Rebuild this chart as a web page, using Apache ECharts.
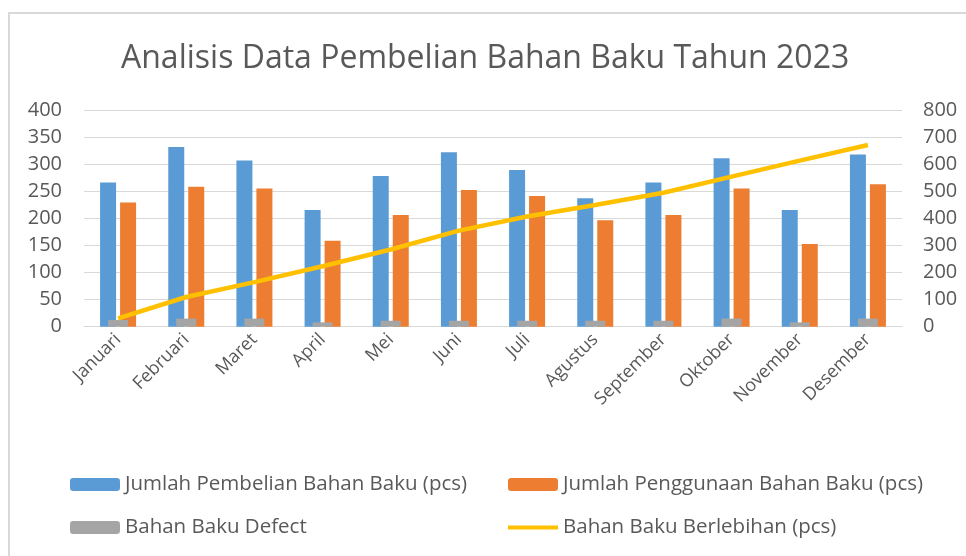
<!DOCTYPE html>
<html>
<head>
<meta charset="utf-8">
<script src="https://cdn.jsdelivr.net/npm/echarts@6/dist/echarts.min.js"></script>
<style>
html,body{margin:0;padding:0;background:#fff;}
#c{width:966px;height:556px;}
</style>
</head>
<body>
<div id="c"></div>
<script>
var categories = ['Januari','Februari','Maret','April','Mei','Juni','Juli','Agustus','September','Oktober','November','Desember'];
var pembelian = [267, 333, 308, 216, 279, 323, 290, 238, 267, 312, 216, 319];
var penggunaan = [230, 259, 256, 159, 207, 253, 242, 197, 207, 256, 153, 264];
var defect = [25, 30, 30, 16, 22, 22, 22, 22, 22, 30, 16, 30];
var berlebihan = [31, 110, 165, 224, 286, 356, 408, 451, 496, 556, 615, 673];
var leftTicks = [0, 400, 50];
var rightTicks = [0, 800, 100];

var names = ['Jumlah Pembelian Bahan Baku (pcs)', 'Jumlah Penggunaan Bahan Baku (pcs)', 'Bahan Baku Defect', 'Bahan Baku Berlebihan (pcs)'];
var FONT = 'Open Sans';
var TXT = '#595959';
var lineIcon = 'path://M0,0L0,0M0,4.5h50v4h-50zM50,13L50,13';
var chart = echarts.init(document.getElementById('c'), null, {renderer: 'canvas'});
chart.setOption({
  animation: false,
  backgroundColor: '#fff',
  textStyle: {fontFamily: FONT},
  title: {
    text: 'Analisis Data Pembelian Bahan Baku Tahun 2023',
    left: 121, top: 43, padding: 0,
    textStyle: {fontFamily: FONT, fontSize: 32, fontWeight: 'normal', color: TXT}
  },
  graphic: [{
    type: 'rect', shape: {x: 9, y: 13, width: 1000, height: 600},
    style: {fill: 'none', stroke: '#d9d9d9', lineWidth: 2}, silent: true
  }],
  grid: {left: 84, right: 64, top: 110.7, bottom: 229.3},
  legend: [{
    left: 70, top: 474, orient: 'vertical', itemGap: 22, padding: 0,
    itemWidth: 50, itemHeight: 13,
    data: [names[0], names[2]],
    textStyle: {fontFamily: FONT, fontSize: 20.5, color: TXT}
  }, {
    left: 508, top: 474, orient: 'vertical', itemGap: 22, padding: 0,
    itemWidth: 50, itemHeight: 13,
    data: [names[1], {name: names[3], icon: lineIcon}],
    textStyle: {fontFamily: FONT, fontSize: 20.5, color: TXT}
  }],
  xAxis: [{
    type: 'category', data: categories,
    axisLine: {lineStyle: {color: '#d9d9d9', width: 1}},
    axisTick: {show: false},
    axisLabel: {rotate: 45, color: TXT, fontSize: 18, fontFamily: FONT, margin: 10, interval: 0}
  }, {
    type: 'category', data: categories, show: false
  }],
  yAxis: [{
    type: 'value', min: leftTicks[0], max: leftTicks[1], interval: leftTicks[2],
    axisLine: {show: false}, axisTick: {show: false},
    splitLine: {lineStyle: {color: '#d9d9d9', width: 1}},
    axisLabel: {color: TXT, fontSize: 20, fontFamily: FONT, margin: 22}
  }, {
    type: 'value', min: rightTicks[0], max: rightTicks[1], interval: rightTicks[2],
    axisLine: {show: false}, axisTick: {show: false},
    splitLine: {show: false},
    axisLabel: {color: TXT, fontSize: 20, fontFamily: FONT, margin: 21}
  }],
  series: [{
    name: names[0], type: 'bar', data: pembelian, xAxisIndex: 0, yAxisIndex: 0,
    barWidth: 16, barGap: '25%', itemStyle: {color: '#5B9BD5'}
  }, {
    name: names[1], type: 'bar', data: penggunaan, xAxisIndex: 0, yAxisIndex: 0,
    barWidth: 16, barGap: '25%', itemStyle: {color: '#ED7D31'}
  }, {
    name: names[2], type: 'bar', data: defect, xAxisIndex: 1, yAxisIndex: 1,
    barWidth: 20, itemStyle: {color: '#A5A5A5'}, z: 3
  }, {
    name: names[3], type: 'line', data: berlebihan, xAxisIndex: 1, yAxisIndex: 1,
    symbol: 'none', lineStyle: {color: '#FFC000', width: 4.5}, itemStyle: {color: '#FFC000'}, z: 4
  }]
});
</script>
</body>
</html>
